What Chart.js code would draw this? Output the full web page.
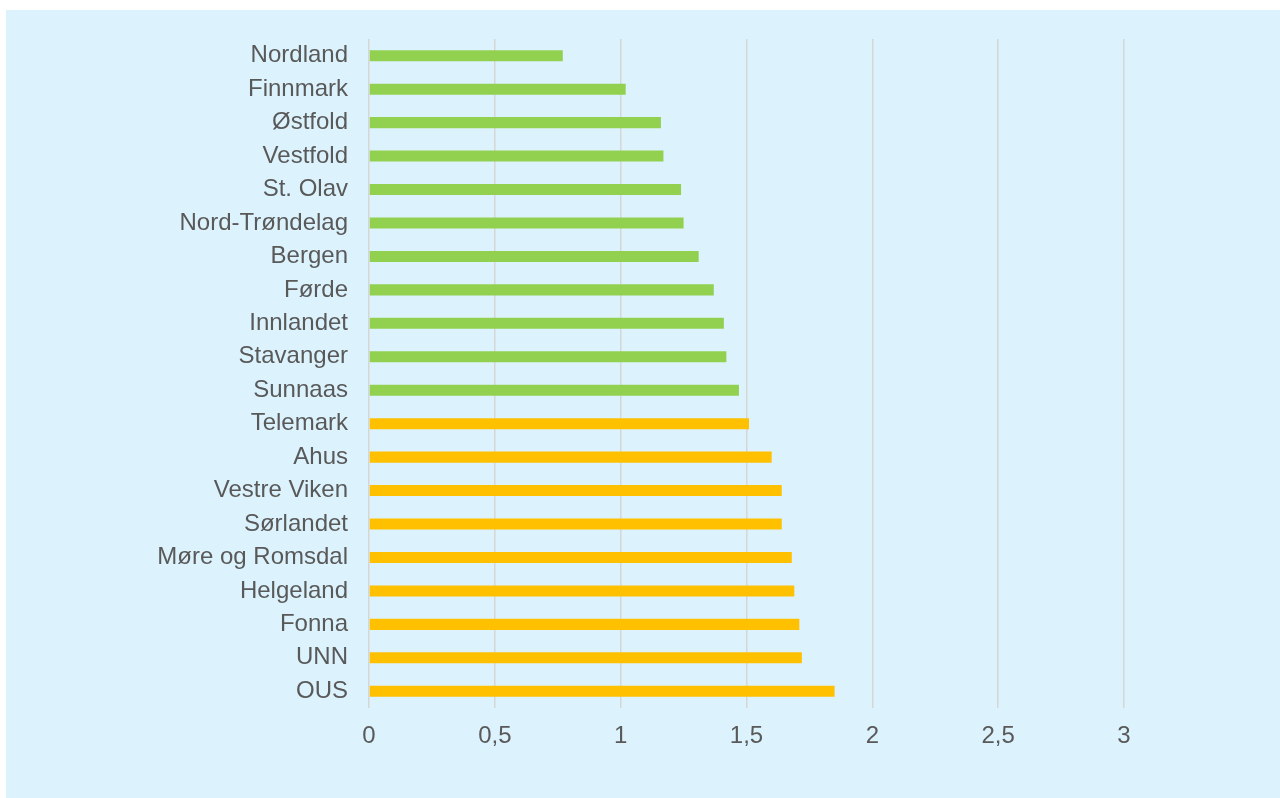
<!DOCTYPE html>
<html lang="no">
<head>
    <meta charset="UTF-8">
    <title>Sykehus</title>
    <script src="https://cdn.jsdelivr.net/npm/chart.js"></script>
    <style>
        html, body {
            margin: 0;
            padding: 0;
            background: #ffffff;
            overflow: hidden;
        }
        .panel {
            position: absolute;
            left: 6px;
            top: 10px;
            width: 1274px;
            height: 788px;
            background: #dcf3fd;
        }
        canvas {
            display: block;
        }
    </style>
</head>
<body>
    <div class="panel">
        <canvas id="barChart" width="1274" height="788"></canvas>
    </div>

    <script>
        // Categories, top to bottom
        const labels = [
            "Nordland", "Finnmark", "Østfold", "Vestfold", "St. Olav",
            "Nord-Trøndelag", "Bergen", "Førde", "Innlandet", "Stavanger",
            "Sunnaas", "Telemark", "Ahus", "Vestre Viken", "Sørlandet",
            "Møre og Romsdal", "Helgeland", "Fonna", "UNN", "OUS"
        ];
        // Values below 1.5 (green) and from 1.5 up (orange)
        const greenValues = [0.77, 1.02, 1.16, 1.17, 1.24, 1.25, 1.31, 1.37, 1.41, 1.42, 1.47,
            null, null, null, null, null, null, null, null, null];
        const orangeValues = [null, null, null, null, null, null, null, null, null, null, null,
            1.51, 1.60, 1.64, 1.64, 1.68, 1.69, 1.71, 1.72, 1.85];
        const xTicks = [0, 0.5, 1, 1.5, 2, 2.5, 3];

        const labelFont = { family: "'Liberation Sans', Arial, sans-serif", size: 24 };

        const ctx = document.getElementById("barChart").getContext("2d");
        new Chart(ctx, {
            type: "bar",
            data: {
                labels: labels,
                datasets: [
                    {
                        data: greenValues,
                        backgroundColor: "#92d050",
                        grouped: false,
                        categoryPercentage: 1,
                        barPercentage: 0.33
                    },
                    {
                        data: orangeValues,
                        backgroundColor: "#ffc000",
                        grouped: false,
                        categoryPercentage: 1,
                        barPercentage: 0.33
                    }
                ]
            },
            options: {
                indexAxis: "y",
                responsive: false,
                animation: false,
                layout: {
                    padding: { top: 29, right: 156, left: 0, bottom: 0 }
                },
                plugins: {
                    legend: { display: false },
                    tooltip: { enabled: false }
                },
                scales: {
                    x: {
                        min: 0,
                        max: 3,
                        afterBuildTicks: (scale) => {
                            scale.ticks = xTicks.map((v) => ({ value: v }));
                        },
                        afterFit: (scale) => {
                            scale.height = 90;
                            scale.paddingLeft = 0;
                            scale.paddingRight = 0;
                        },
                        grid: {
                            color: "#d6d6d6",
                            lineWidth: 1.5,
                            drawTicks: false
                        },
                        border: { display: false },
                        ticks: {
                            padding: 14,
                            color: "#595959",
                            font: labelFont,
                            callback: (v) => String(v).replace(".", ",")
                        }
                    },
                    y: {
                        afterFit: (scale) => {
                            scale.width = 363;
                            scale.paddingTop = 0;
                            scale.paddingBottom = 0;
                        },
                        grid: { display: false, drawTicks: false },
                        border: { display: false },
                        ticks: {
                            padding: 21,
                            color: "#595959",
                            font: labelFont
                        }
                    }
                }
            }
        });
    </script>
</body>
</html>
